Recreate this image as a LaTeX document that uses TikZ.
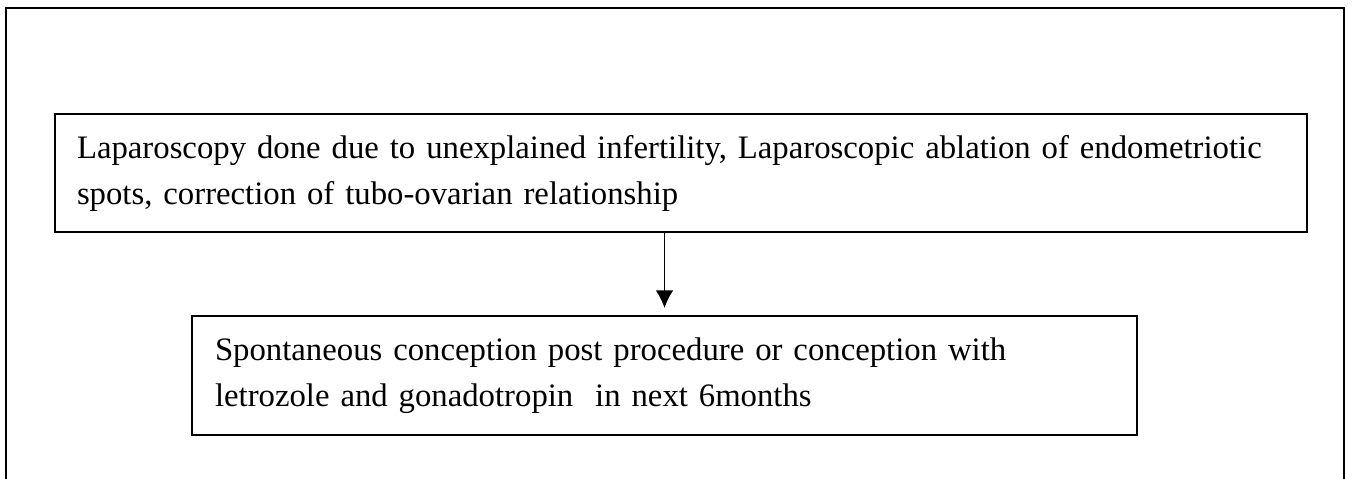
\documentclass[tikz,border=0pt]{standalone}
\usepackage{fontspec}
\setmainfont{Liberation Serif}
\usepackage{tikz}
\usetikzlibrary{arrows.meta,positioning}
\tikzset{
  stepbox/.style={draw,line width=0.8pt,align=left,anchor=north west,inner ysep=0pt},
}

\begin{document}
\begin{tikzpicture}[x=0.4pt,y=-0.4pt,>={Latex[length=7pt,width=7pt]},font=\fontsize{13.1}{18.4}\selectfont]
  \useasboundingbox (0,0) rectangle (1355,479);
  % outer frame, open at the bottom
  \draw[line width=0.8pt] (5.5,479) -- (5.5,8) -- (1344,8) -- (1344,479);
  \node[stepbox,inner xsep=8.8pt,text width=483.2pt,minimum height=47.2pt] (lap) at (54,113)
    {Laparoscopy done due to unexplained infertility, Laparoscopic ablation of endometriotic\\
     spots, correction of tubo-ovarian relationship};
  \node[stepbox,inner xsep=9.2pt,text width=359.6pt,minimum height=47.6pt] (conc) at (191,315)
    {Spontaneous conception post procedure or conception with\\
     letrozole and gonadotropin\ \ in next 6months};
  \draw[->,line width=0.6pt,shorten >=2.8pt] (lap.south -| conc.north) -- (conc.north);
\end{tikzpicture}
\end{document}
